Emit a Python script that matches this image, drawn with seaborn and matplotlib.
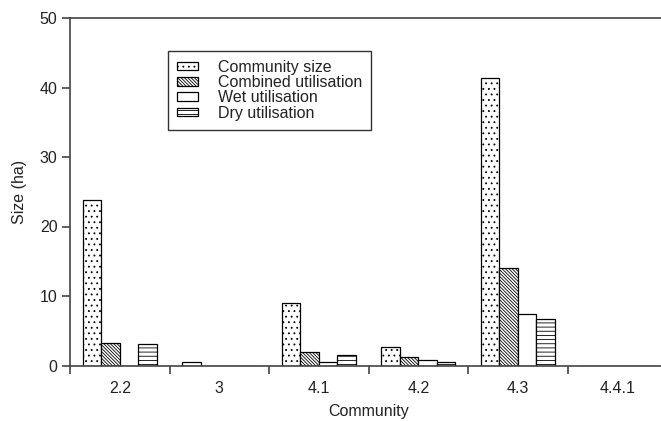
import pandas as pd
import numpy as np
import matplotlib
matplotlib.use("Agg")
import matplotlib.pyplot as plt
import seaborn as sns
from matplotlib.patches import Patch

communities = ["2.2", "3", "4.1", "4.2", "4.3", "4.4.1"]
series = ["Community size", "Combined utilisation", "Wet utilisation", "Dry utilisation"]
community_size = [23.8, 0.5, 9.0, 2.6, 41.3, 0.0]
combined_util = [3.3, 0.0, 2.0, 1.25, 14.0, 0.0]
wet_util = [0.0, 0.0, 0.5, 0.8, 7.4, 0.0]
dry_util = [3.1, 0.0, 1.45, 0.5, 6.65, 0.0]

hatches = ["...", "\\\\\\\\\\\\\\\\\\\\", "", "----"]

sns.set_style("ticks")
plt.rcParams["font.family"] = ["Liberation Sans", "DejaVu Sans"]
plt.rcParams["hatch.linewidth"] = 0.6
plt.rcParams["hatch.color"] = "black"

df = pd.DataFrame({
    "Community": communities * 4,
    "Series": np.repeat(series, len(communities)),
    "Size": community_size + combined_util + wet_util + dry_util,
})

fig = plt.figure(figsize=(6.61, 4.21), dpi=100)
ax = fig.add_axes([70 / 661, 55.5 / 421, 597 / 661, 347.5 / 421])

sns.barplot(data=df, x="Community", y="Size", hue="Series", order=communities,
            hue_order=series, palette=["white"] * 4, edgecolor="black",
            linewidth=0.9, width=0.74, legend=False, ax=ax)

for cont, h in zip(ax.containers, hatches):
    for bar in cont:
        bar.set_hatch(h)

spine_col = "#444444"
fs = 11.5
for s in ["left", "bottom", "top", "right"]:
    ax.spines[s].set_color(spine_col)
    ax.spines[s].set_linewidth(1.2)

ax.set_ylim(0, 50)
ax.set_yticks(range(0, 51, 10))
ax.set_xlim(-0.5, len(communities) - 0.5)
ax.set_xticks(range(len(communities)))
ax.set_xticklabels(communities)
ax.set_xticks(np.arange(-0.5, len(communities), 1.0), minor=True)
ax.tick_params(axis="x", which="major", length=0, pad=11, labelsize=fs, colors="#222222")
ax.tick_params(axis="x", which="minor", length=6, width=1.2, color=spine_col)
ax.tick_params(axis="y", length=6, width=1.2, color=spine_col, labelsize=fs,
               labelcolor="#222222", pad=3)

ax.set_xlabel("Community", fontsize=fs, color="#222222", labelpad=6)
ax.set_ylabel("Size (ha)", fontsize=fs, color="#222222", labelpad=9)

handles = [Patch(facecolor="white", edgecolor="black", linewidth=0.9, hatch=h)
           for h in hatches]
leg = ax.legend(handles, series, loc="upper left",
                bbox_to_anchor=(168 / 661, 1 - 51 / 421), bbox_transform=fig.transFigure,
                fontsize=fs, frameon=True, fancybox=False, handlelength=1.3,
                handleheight=0.45, labelspacing=0.02, handletextpad=1.3,
                borderpad=0.55, borderaxespad=0)
leg.get_frame().set_edgecolor("black")
leg.get_frame().set_linewidth(1.0)
for t in leg.get_texts():
    t.set_color("#222222")

fig.savefig("out.png", dpi=100)
